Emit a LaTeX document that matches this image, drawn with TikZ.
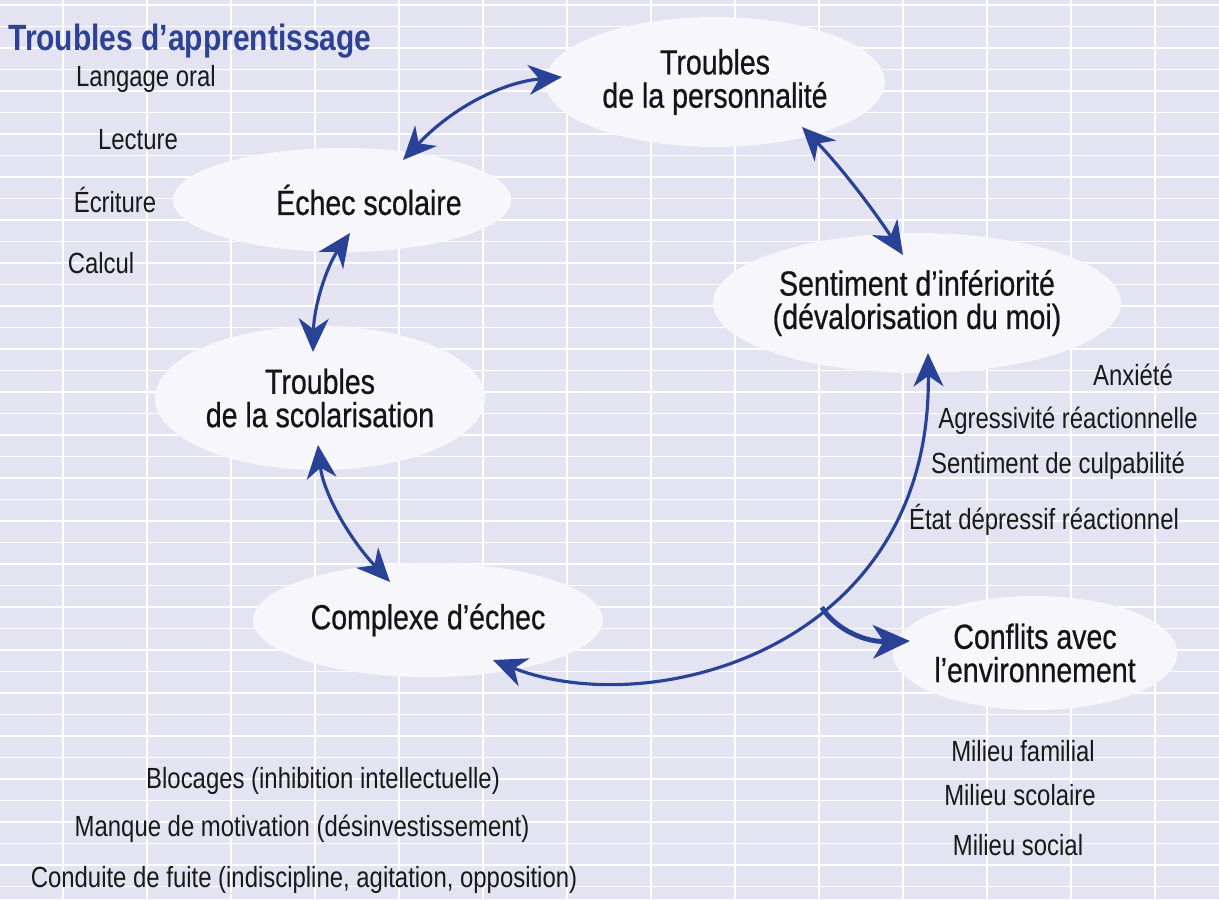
\documentclass[tikz,border=0pt]{standalone}
\usepackage{fontspec}
\setmainfont[FakeStretch=0.82]{Liberation Sans}
\newfontfamily\bullefont[FakeStretch=0.82, FakeBold=0.6]{Liberation Sans}
\usetikzlibrary{arrows.meta, shapes.geometric}

\definecolor{fond}{RGB}{227,227,241}
\definecolor{bulle}{RGB}{246,246,251}
\definecolor{bleu}{RGB}{42,66,150}
\definecolor{bleutitre}{RGB}{46,66,148}

\begin{document}
\begin{tikzpicture}[x=0.02cm, y=-0.02cm,
    bulle/.style={ellipse, fill=bulle, inner sep=0pt, align=center, text=black!92,
        font=\bullefont\fontsize{19.8pt}{19pt}\selectfont},
    liste/.style={inner sep=0pt, text=black!90,
        font=\fontsize{16.6pt}{17pt}\selectfont},
    lien/.style={{Stealth[length=19pt,width=17pt,inset=6pt]}-{Stealth[length=19pt,width=17pt,inset=6pt]},
        bleu, line width=1.8pt}]

    % Fond quadrillé
    \useasboundingbox[fill=fond] (0,0) rectangle (1219,899);
    \foreach \y in {5,26.5,...,899} \draw[white, line width=0.6pt] (0,\y) -- (1219,\y);
    \foreach \x in {63,147,...,1219} \draw[white, line width=1.3pt] (\x,0) -- (\x,899);

    % Bulles
    \node[bulle, minimum width=6.8cm, minimum height=2.6cm] (perso) at (715,82) {Troubles\\de la personnalité};
    \node[bulle, minimum width=5.92cm, minimum height=2.08cm] (echec) at (342,200) {\hspace*{1.08cm}Échec scolaire};
    \node[bulle, minimum width=6.88cm, minimum height=2.8cm] (infer) at (917,303) {Sentiment d’infériorité\\(dévalorisation du moi)};
    \node[bulle, minimum width=6.6cm, minimum height=2.88cm] (scol) at (320,398) {Troubles\\de la scolarisation};
    \node[bulle, minimum width=7cm, minimum height=2.28cm] (complexe) at (428,620) {Complexe d’échec};
    \node[bulle, minimum width=5.4cm, minimum height=2.28cm] (conflit) at (1035,653) {Conflits avec\\l’environnement};

    % Titre et listes
    \node[anchor=base west, inner sep=0pt, text=bleutitre,
        font=\fontsize{20.8pt}{21pt}\selectfont\bfseries] (titre) at (8,50) {Troubles d’apprentissage};
    \node[liste] (langage) at (146,79) {Langage oral};
    \node[liste] (lecture) at (138,140) {Lecture};
    \node[liste] (ecriture) at (115,200) {Écriture};
    \node[liste] (calcul) at (101,263) {Calcul};
    \node[liste] (anxiete) at (1133,375) {Anxiété};
    \node[liste] (agressivite) at (1068,421) {Agressivité réactionnelle};
    \node[liste] (culpabilite) at (1058,466) {Sentiment de culpabilité};
    \node[liste] (depression) at (1044,520) {État dépressif réactionnel};
    \node[liste] (familial) at (1023,751) {Milieu familial};
    \node[liste] (scolaire) at (1020,795) {Milieu scolaire};
    \node[liste] (social) at (1018,845) {Milieu social};
    \node[liste] (blocages) at (323,781) {Blocages (inhibition intellectuelle)};
    \node[liste] (motivation) at (302,829) {Manque de motivation (désinvestissement)};
    \node[liste] (fuite) at (304,880) {Conduite de fuite (indiscipline, agitation, opposition)};

    % Flèches du cercle
    \draw[lien] ([shift={(61,-40)}]echec.center) .. controls (455,105) and (505,82) .. ([shift={(-153,-5)}]perso.center);
    \draw[lien] ([shift={(87,45)}]perso.center) .. controls (840,166) and (873,209) .. ([shift={(-14,-48)}]infer.center);
    \draw[lien] ([shift={(8,33)}]echec.center) .. controls (327,266) and (314,305) .. ([shift={(-7,-46)}]scol.center);
    \draw[lien] ([shift={(-2,47)}]scol.center) .. controls (323,491) and (347,536) .. ([shift={(-38,-38)}]complexe.center);
    \draw[lien] ([shift={(65,40)}]complexe.center) .. controls (650,722) and (932,650) .. ([shift={(11,50)}]infer.center)
        coordinate[pos=0.6] (fourche);

    % Branche vers les conflits
    \draw[-{Stealth[length=21pt,width=19pt,inset=6pt]}, bleu, line width=2.8pt]
        (fourche) .. controls (832,625) and (860,642) .. ([shift={(-125,-12)}]conflit.center);
\end{tikzpicture}
\end{document}
